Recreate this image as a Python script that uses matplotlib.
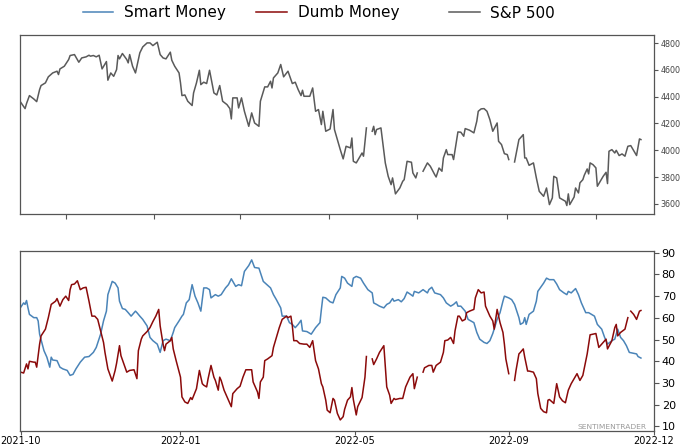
import numpy as np
import pandas as pd
import matplotlib
matplotlib.use("Agg")
import matplotlib.pyplot as plt
import matplotlib.dates as mdates
from matplotlib.lines import Line2D

# ---------------- data ----------------
sp_dates = [
 "2021-10-01","2021-10-04","2021-10-05","2021-10-07","2021-10-10","2021-10-12","2021-10-14","2021-10-15",
 "2021-10-18","2021-10-20","2021-10-23","2021-10-26","2021-10-27","2021-10-28","2021-10-31","2021-11-03",
 "2021-11-04","2021-11-07","2021-11-10","2021-11-12","2021-11-15","2021-11-17","2021-11-18","2021-11-20",
 "2021-11-22","2021-11-24","2021-11-26","2021-11-29","2021-11-30","2021-12-02","2021-12-04","2021-12-06",
 "2021-12-07","2021-12-08","2021-12-10","2021-12-13","2021-12-14","2021-12-15","2021-12-17","2021-12-19",
 "2021-12-22","2021-12-24","2021-12-27","2021-12-29","2021-12-31","2022-01-03","2022-01-05","2022-01-07",
 "2022-01-09","2022-01-12","2022-01-13","2022-01-15","2022-01-18","2022-01-19","2022-01-20","2022-01-22",
 "2022-01-24","2022-01-27","2022-01-28","2022-01-30","2022-02-01","2022-02-02","2022-02-04","2022-02-06",
 "2022-02-08","2022-02-11","2022-02-13","2022-02-15","2022-02-17","2022-02-20","2022-02-22","2022-02-23",
 "2022-02-24","2022-02-27","2022-02-28","2022-03-02","2022-03-04","2022-03-07","2022-03-09","2022-03-11",
 "2022-03-14","2022-03-15","2022-03-18","2022-03-20","2022-03-22","2022-03-23","2022-03-24","2022-03-27",
 "2022-03-29","2022-03-31","2022-04-03","2022-04-06","2022-04-08","2022-04-10","2022-04-12","2022-04-13",
 "2022-04-14","2022-04-18","2022-04-20","2022-04-22","2022-04-24","2022-04-26","2022-04-27","2022-04-29",
 "2022-05-02","2022-05-04","2022-05-05","2022-05-09","2022-05-11","2022-05-13","2022-05-16","2022-05-17",
 "2022-05-18","2022-05-20","2022-05-24","2022-05-25","2022-05-27","2022-05-30","2022-05-31","2022-06-01",
 "2022-06-02","2022-06-03","2022-06-06","2022-06-09","2022-06-11","2022-06-13","2022-06-14","2022-06-16",
 "2022-06-19","2022-06-21","2022-06-22","2022-06-24","2022-06-27","2022-06-28","2022-06-30","2022-07-01",
 "2022-07-04","2022-07-05","2022-07-08","2022-07-10","2022-07-13","2022-07-14","2022-07-16","2022-07-18",
 "2022-07-19","2022-07-21","2022-07-22","2022-07-25","2022-07-26","2022-07-28","2022-07-29","2022-07-31",
 "2022-08-02","2022-08-03","2022-08-06","2022-08-09","2022-08-11","2022-08-12","2022-08-14","2022-08-16",
 "2022-08-18","2022-08-20","2022-08-22","2022-08-25","2022-08-26","2022-08-28","2022-08-30","2022-09-01",
 "2022-09-02","2022-09-05","2022-09-06","2022-09-09","2022-09-12","2022-09-13","2022-09-14","2022-09-16",
 "2022-09-19","2022-09-21","2022-09-23","2022-09-26","2022-09-28","2022-09-30","2022-10-02","2022-10-03",
 "2022-10-05","2022-10-07","2022-10-11","2022-10-12","2022-10-13","2022-10-14","2022-10-17","2022-10-18",
 "2022-10-20","2022-10-21","2022-10-23","2022-10-24","2022-10-26","2022-10-27","2022-10-28","2022-10-30",
 "2022-11-01","2022-11-02","2022-11-04","2022-11-06","2022-11-08","2022-11-09","2022-11-10","2022-11-12",
 "2022-11-14","2022-11-15","2022-11-17","2022-11-19","2022-11-21","2022-11-23","2022-11-25","2022-11-27",
 "2022-11-29","2022-12-01","2022-12-02"]
sp_values = [
 4358,4311,4349,4408,4383,4363,4453,4483,4503,4548,4577,4590,4565,4607,4627,4677,
 4707,4714,4657,4689,4697,4709,4702,4707,4697,4709,4607,4662,4523,4577,4552,4602,
 4707,4682,4722,4677,4652,4714,4627,4577,4727,4771,4801,4801,4781,4806,4714,4689,
 4682,4732,4672,4627,4577,4503,4408,4413,4366,4334,4428,4503,4597,4490,4508,4498,
 4597,4428,4413,4483,4366,4341,4311,4234,4391,4391,4316,4391,4291,4179,4279,4204,
 4179,4366,4473,4473,4515,4465,4540,4577,4640,4548,4590,4498,4508,4453,4408,4448,
 4403,4403,4465,4291,4304,4192,4291,4142,4159,4304,4155,4005,3936,4030,4018,4092,
 3918,3906,3980,3956,4167,None,4142,4179,4117,4155,4167,3906,3806,3744,3794,3675,
 3719,3769,3781,3918,3911,3831,3794,3831,None,3844,3906,3881,3819,3801,3868,3844,
 3943,4005,3968,3968,3931,4067,4137,4135,4105,4162,4150,4130,4217,4291,4309,4311,
 4291,4229,4142,4204,4067,4043,3975,3968,3931,None,3913,4080,4117,3943,3943,3888,
 3906,3794,3694,3657,3719,3595,3645,3806,3794,3645,3620,3588,3675,3595,3652,3719,
 3682,3757,3781,3814,3861,3824,3906,3893,3869,3732,3769,3806,3836,3752,3993,4005,
 3980,4000,3961,3973,3956,4030,4035,3998,3961,4085,4080]

smart_dates = [
 "2021-10-01","2021-10-03","2021-10-04","2021-10-05","2021-10-06","2021-10-07","2021-10-10","2021-10-12",
 "2021-10-13","2021-10-14","2021-10-17","2021-10-19","2021-10-21","2021-10-22","2021-10-23","2021-10-26",
 "2021-10-28","2021-10-30","2021-11-02","2021-11-03","2021-11-04","2021-11-06","2021-11-08","2021-11-11",
 "2021-11-14","2021-11-17","2021-11-20","2021-11-22","2021-11-25","2021-11-27","2021-11-29","2021-11-30",
 "2021-12-03","2021-12-05","2021-12-07","2021-12-08","2021-12-10","2021-12-12","2021-12-14","2021-12-16",
 "2021-12-19","2021-12-20","2021-12-22","2021-12-24","2021-12-27","2021-12-29","2021-12-31","2022-01-03",
 "2022-01-05","2022-01-07","2022-01-09","2022-01-12","2022-01-14","2022-01-15","2022-01-18","2022-01-20",
 "2022-01-21","2022-01-23","2022-01-25","2022-01-27","2022-01-29","2022-01-31","2022-02-02","2022-02-04",
 "2022-02-06","2022-02-08","2022-02-09","2022-02-12","2022-02-14","2022-02-16","2022-02-19","2022-02-21",
 "2022-02-23","2022-02-26","2022-02-28","2022-03-02","2022-03-04","2022-03-07","2022-03-09","2022-03-11",
 "2022-03-14","2022-03-17","2022-03-19","2022-03-22","2022-03-24","2022-03-26","2022-03-29","2022-03-30",
 "2022-04-02","2022-04-04","2022-04-06","2022-04-08","2022-04-10","2022-04-12","2022-04-13","2022-04-16",
 "2022-04-19","2022-04-22","2022-04-25","2022-04-26","2022-04-27","2022-04-29","2022-05-02","2022-05-04",
 "2022-05-06","2022-05-09","2022-05-10","2022-05-12","2022-05-14","2022-05-17","2022-05-18","2022-05-20",
 "2022-05-23","2022-05-25","2022-05-28","2022-05-31","2022-06-01","2022-06-03","2022-06-05","2022-06-08",
 "2022-06-10","2022-06-12","2022-06-14","2022-06-15","2022-06-18","2022-06-20","2022-06-22","2022-06-24",
 "2022-06-26","2022-06-28","2022-06-29","2022-07-02","2022-07-05","2022-07-08","2022-07-09","2022-07-11",
 "2022-07-13","2022-07-17","2022-07-19","2022-07-21","2022-07-24","2022-07-26","2022-07-28","2022-07-29",
 "2022-07-31","2022-08-03","2022-08-05","2022-08-09","2022-08-11","2022-08-13","2022-08-16","2022-08-18",
 "2022-08-20","2022-08-22","2022-08-25","2022-08-27","2022-08-29","2022-08-30","2022-09-02","2022-09-04",
 "2022-09-06","2022-09-09","2022-09-10","2022-09-12","2022-09-13","2022-09-14","2022-09-16","2022-09-19",
 "2022-09-21","2022-09-22","2022-09-26","2022-09-28","2022-09-30","2022-10-03","2022-10-05","2022-10-07",
 "2022-10-10","2022-10-12","2022-10-13","2022-10-15","2022-10-18","2022-10-20","2022-10-22","2022-10-25",
 "2022-10-27","2022-10-29","2022-10-31","2022-11-02","2022-11-05","2022-11-07","2022-11-09","2022-11-12",
 "2022-11-14","2022-11-16","2022-11-18","2022-11-20","2022-11-22","2022-11-24","2022-11-27","2022-11-29",
 "2022-11-30","2022-12-02"]
smart_values = [
 64.9,66.9,66.2,68.0,64.6,61.6,60.1,60.1,58.6,52.5,44.9,41.9,37.3,41.9,40.6,40.3,
 37.3,36.5,35.8,34.6,33.5,34.0,36.5,39.6,41.9,42.2,44.1,46.4,52.5,58.6,63.1,70.7,
 76.8,76.0,73.8,67.7,64.3,63.9,62.4,60.8,63.1,62.4,60.8,59.3,56.3,51.0,49.5,47.9,
 44.1,49.5,50.2,49.5,53.3,55.5,58.6,60.8,61.6,66.9,68.4,75.3,70.0,66.9,63.1,73.8,
 73.8,73.0,69.2,70.7,70.0,70.7,73.8,75.3,78.0,74.5,75.3,74.8,81.4,84.1,86.7,83.2,
 82.9,76.8,75.6,73.8,70.7,68.4,64.6,60.8,60.8,57.8,57.0,55.5,57.0,58.9,54.0,53.7,
 52.5,55.5,57.8,63.9,69.5,69.2,67.4,66.9,70.7,73.8,79.1,78.3,76.0,74.5,78.3,79.1,
 78.3,76.0,73.0,71.5,66.9,66.2,65.4,64.6,66.2,66.9,68.9,67.7,68.4,67.4,68.9,71.9,
 71.0,70.0,72.2,71.5,73.0,71.5,73.0,74.1,71.5,70.7,69.2,66.9,65.4,66.2,67.4,65.4,
 65.4,63.1,59.3,57.8,53.3,50.2,48.7,48.2,49.5,52.8,59.3,62.4,67.7,70.0,69.2,68.4,
 66.2,60.1,57.0,57.8,60.1,57.0,61.6,63.1,67.7,72.2,76.0,78.3,77.6,77.6,75.6,73.0,
 71.5,70.7,72.2,71.5,73.5,70.7,66.9,62.4,62.4,61.6,60.8,57.0,54.8,51.0,47.9,49.5,
 50.2,54.8,51.0,49.5,47.2,44.1,43.7,43.4,42.2,41.5]

dumb_dates = [
 "2021-10-01","2021-10-03","2021-10-05","2021-10-06","2021-10-07","2021-10-10","2021-10-11","2021-10-12",
 "2021-10-14","2021-10-15","2021-10-18","2021-10-20","2021-10-22","2021-10-25","2021-10-26","2021-10-28",
 "2021-10-29","2021-10-30","2021-11-01","2021-11-03","2021-11-04","2021-11-05","2021-11-07","2021-11-09",
 "2021-11-11","2021-11-13","2021-11-15","2021-11-17","2021-11-19","2021-11-21","2021-11-23","2021-11-25",
 "2021-11-27","2021-11-28","2021-11-30","2021-12-03","2021-12-05","2021-12-06","2021-12-08","2021-12-09",
 "2021-12-11","2021-12-13","2021-12-15","2021-12-18","2021-12-20","2021-12-21","2021-12-23","2021-12-24",
 "2021-12-27","2021-12-29","2021-12-31","2022-01-02","2022-01-04","2022-01-05","2022-01-07","2022-01-08",
 "2022-01-09","2022-01-12","2022-01-13","2022-01-14","2022-01-16","2022-01-19","2022-01-20","2022-01-22",
 "2022-01-24","2022-01-26","2022-01-27","2022-01-30","2022-02-01","2022-02-03","2022-02-04","2022-02-06",
 "2022-02-07","2022-02-09","2022-02-11","2022-02-12","2022-02-14","2022-02-15","2022-02-16","2022-02-18",
 "2022-02-20","2022-02-22","2022-02-23","2022-02-24","2022-02-27","2022-03-01","2022-03-03","2022-03-05",
 "2022-03-07","2022-03-09","2022-03-10","2022-03-13","2022-03-14","2022-03-15","2022-03-17","2022-03-18",
 "2022-03-20","2022-03-23","2022-03-24","2022-03-26","2022-03-28","2022-03-30","2022-04-02","2022-04-03",
 "2022-04-05","2022-04-06","2022-04-07","2022-04-09","2022-04-11","2022-04-14","2022-04-16","2022-04-18",
 "2022-04-20","2022-04-22","2022-04-24","2022-04-26","2022-04-27","2022-04-29","2022-04-30","2022-05-02",
 "2022-05-04","2022-05-05","2022-05-07","2022-05-09","2022-05-11","2022-05-12","2022-05-14","2022-05-16",
 "2022-05-17","2022-05-18","2022-05-20","2022-05-21","2022-05-24","2022-05-26","2022-05-27","2022-05-30",
 "2022-05-31","2022-06-01","2022-06-03","2022-06-05","2022-06-08","2022-06-10","2022-06-12","2022-06-13",
 "2022-06-15","2022-06-16","2022-06-19","2022-06-21","2022-06-23","2022-06-26","2022-06-28","2022-06-29",
 "2022-07-01","2022-07-04","2022-07-05","2022-07-06","2022-07-09","2022-07-11","2022-07-12","2022-07-14",
 "2022-07-17","2022-07-19","2022-07-20","2022-07-22","2022-07-24","2022-07-26","2022-07-27","2022-07-29",
 "2022-07-30","2022-08-01","2022-08-03","2022-08-04","2022-08-06","2022-08-09","2022-08-10","2022-08-12",
 "2022-08-14","2022-08-16","2022-08-17","2022-08-20","2022-08-22","2022-08-23","2022-08-25","2022-08-27",
 "2022-08-29","2022-08-30","2022-08-31","2022-09-02","2022-09-05","2022-09-06","2022-09-07","2022-09-09",
 "2022-09-10","2022-09-12","2022-09-13","2022-09-15","2022-09-16","2022-09-19","2022-09-21","2022-09-22",
 "2022-09-24","2022-09-26","2022-09-28","2022-09-29","2022-09-30","2022-10-03","2022-10-05","2022-10-07",
 "2022-10-09","2022-10-11","2022-10-13","2022-10-15","2022-10-17","2022-10-19","2022-10-21","2022-10-23",
 "2022-10-26","2022-10-28","2022-10-30","2022-11-01","2022-11-03","2022-11-05","2022-11-08","2022-11-09",
 "2022-11-12","2022-11-14","2022-11-15","2022-11-16","2022-11-18","2022-11-21","2022-11-23","2022-11-24",
 "2022-11-25","2022-11-27","2022-11-29","2022-12-01","2022-12-02"]
dumb_values = [
 35.0,34.6,38.8,36.5,40.0,39.6,39.6,37.3,47.9,51.7,54.8,60.1,66.2,67.7,68.9,65.4,
 66.9,68.4,70.0,68.0,73.0,75.3,75.6,77.1,73.0,73.8,74.1,67.7,60.8,60.8,59.3,54.0,
 48.7,44.1,36.5,30.9,35.8,39.1,47.2,42.6,38.8,35.0,35.8,36.1,32.0,44.9,50.2,51.7,
 53.7,55.5,58.3,60.8,63.9,56.3,47.9,44.9,47.9,49.5,51.0,45.7,40.3,32.7,23.6,21.3,
 20.6,23.3,22.4,27.4,35.8,29.7,29.0,28.2,32.0,38.1,32.7,31.2,26.7,32.7,31.2,26.7,
 23.6,20.6,19.1,25.1,27.4,28.5,32.7,36.1,36.1,36.1,30.5,25.9,22.9,30.5,32.7,40.3,
 41.1,42.6,46.4,51.0,55.5,59.3,60.8,60.1,60.8,56.3,49.5,49.5,48.2,47.9,47.9,46.4,
 49.5,40.3,36.5,29.7,28.2,22.1,17.5,16.3,22.9,22.1,16.0,13.0,14.5,17.9,22.1,23.6,
 27.9,22.4,15.3,19.1,23.3,32.7,42.2,None,41.1,38.5,41.1,44.1,47.2,28.2,24.4,20.6,
 22.9,22.4,22.9,22.9,28.2,32.7,34.3,27.4,32.7,None,35.0,37.0,38.1,38.1,35.0,38.1,
 39.6,44.1,49.5,49.8,51.0,48.2,54.0,60.8,60.8,58.6,59.3,62.4,63.1,63.9,69.2,73.0,
 71.5,71.9,65.4,60.8,58.6,54.8,63.9,57.8,53.3,47.9,41.1,34.3,None,31.2,35.8,43.4,
 44.1,45.7,41.9,35.5,35.5,35.0,32.0,25.2,18.3,16.8,16.3,22.1,22.4,20.6,29.7,23.6,
 21.8,20.9,26.7,29.7,32.0,34.3,31.2,33.5,43.4,52.2,52.5,52.8,46.4,47.9,50.2,45.7,
 49.5,55.5,57.0,51.7,53.3,54.8,60.1,None,63.1,61.6,59.3,63.1,63.4]

legend_labels = ["Smart Money", "Dumb Money", "S&P 500"]
bottom_tick_dates = ["2021-10-01", "2022-01-19", "2022-05-19", "2022-09-02", "2022-12-11"]
bottom_tick_labels = ["2021-10", "2022-01", "2022-05", "2022-09", "2022-12"]
sp_yticks = [3600, 3800, 4000, 4200, 4400, 4600, 4800]
sent_yticks = [10, 20, 30, 40, 50, 60, 70, 80, 90]

# ---------------- styling ----------------
C_SMART = "#4a84b8"
C_DUMB = "#8b0a0a"
C_SP = "#5a5a5a"
SPINE = "#555555"

def to_series(dates, values):
    return pd.Series(np.array([np.nan if v is None else v for v in values], dtype=float),
                     index=pd.to_datetime(dates))

sp = to_series(sp_dates, sp_values)
smart = to_series(smart_dates, smart_values)
dumb = to_series(dumb_dates, dumb_values)

fig = plt.figure(figsize=(6.8, 4.48), dpi=100)
W, H = 680, 448
ax1 = fig.add_axes([20 / W, 1 - 214 / H, (654 - 20) / W, (214 - 35) / H])
ax2 = fig.add_axes([20 / W, 1 - 431 / H, (654 - 20) / W, (431 - 251) / H])

xlim = (pd.Timestamp("2021-09-30 12:00"), pd.Timestamp("2022-12-11"))

ax1.plot(sp.index, sp.values, color=C_SP, lw=1.1)
ax2.plot(smart.index, smart.values, color=C_SMART, lw=1.1)
ax2.plot(dumb.index, dumb.values, color=C_DUMB, lw=1.1)

for ax in (ax1, ax2):
    ax.set_xlim(*xlim)
    ax.yaxis.tick_right()
    for s in ax.spines.values():
        s.set_color(SPINE)
        s.set_linewidth(0.9)
    ax.tick_params(color=SPINE, length=3.5, width=0.8)

ax1.set_ylim(3525, 4860)
ax1.set_yticks(sp_yticks)
ax1.xaxis.set_major_locator(mdates.MonthLocator(bymonth=[1, 3, 5, 7, 9, 11]))
ax1.tick_params(axis="x", labelbottom=False)
ax1.tick_params(axis="y", labelsize=5.8, labelcolor="#444444", pad=1.5, length=3)

ax2.set_ylim(7.9, 90.8)
ax2.set_yticks(sent_yticks)
ax2.set_xticks(pd.to_datetime(bottom_tick_dates))
ax2.set_xticklabels(bottom_tick_labels)
ax2.tick_params(axis="y", labelsize=8, pad=2)
ax2.tick_params(axis="x", labelsize=7, pad=0.5, length=3)

ax2.text(0.988, 0.008, "SENTIMENTRADER", transform=ax2.transAxes, ha="right", va="bottom",
         fontsize=5.4, color="#9a9a9a")

h_smart = Line2D([], [], color=C_SMART, lw=1.1)
h_dumb = Line2D([], [], color=C_DUMB, lw=1.1)
h_sp = Line2D([], [], color=C_SP, lw=1.1)
leg_kw = dict(frameon=False, fontsize=11, handlelength=2.0, handletextpad=0.7,
              columnspacing=2.0, borderaxespad=0, borderpad=0)
fig.legend([h_smart, h_dumb], legend_labels[:2], loc="center", ncol=2,
           bbox_to_anchor=(241 / W, 1 - 13 / H), **leg_kw)
fig.legend([h_sp], legend_labels[2:], loc="center", ncol=1,
           bbox_to_anchor=(502 / W, 1 - 13 / H), **leg_kw)

fig.savefig("out.png", dpi=100)
